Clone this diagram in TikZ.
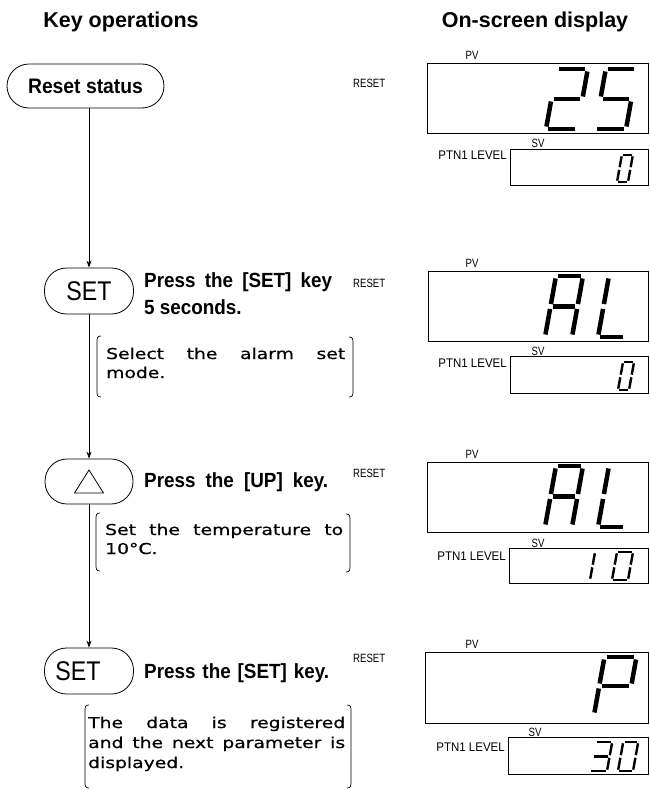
\documentclass[tikz,border=0pt]{standalone}
\usepackage{fontspec}
\setmainfont{Liberation Sans}
\newfontfamily\keyfont[FakeStretch=0.92]{Liberation Sans}
\newfontfamily\setfont[FakeStretch=0.86]{Liberation Sans}
\newfontfamily\notefont[FakeStretch=1.25,FakeBold=0.6]{DejaVu Sans}
\newfontfamily\smallfont[FakeStretch=0.8]{Liberation Sans}
\newfontfamily\ptnfont[FakeStretch=0.92]{Liberation Sans}
\usetikzlibrary{arrows.meta}
% seven-segment segments
\newcommand\dsega{\draw (\dG,-\dH) -- (\dW-\dG,-\dH);}
\newcommand\dsegb{\draw (\dW,-\dH+\dG) -- (\dW,-\dM-\dG);}
\newcommand\dsegc{\draw (\dW,-\dM+\dG) -- (\dW,-\dG);}
\newcommand\dsegd{\draw (\dG,0) -- (\dW-\dG,0);}
\newcommand\dsege{\draw (0,-\dM+\dG) -- (0,-\dG);}
\newcommand\dsegf{\draw (0,-\dH+\dG) -- (0,-\dM-\dG);}
\newcommand\dsegg{\draw (\dG,-\dM) -- (\dW-\dG,-\dM);}
\newcommand\sevdig[6]{%
  \begin{scope}[shift={(#1,#2)},xslant=0.18,line width=#5pt,line cap=butt]
    \def\dW{#3}\def\dH{#4}\pgfmathsetmacro\dM{#4/2}\pgfmathsetmacro\dG{#5*0.55}
    \foreach \s in {#6}{\csname dseg\s\endcsname}
  \end{scope}}
\newcommand\lbrk[3]{\draw[brk] (#1+4,#2) .. controls (#1,#2) and (#1,#2+2) .. (#1,#2+7) -- (#1,#3-7) .. controls (#1,#3-2) and (#1,#3) .. (#1+4,#3);}
\newcommand\rbrk[3]{\draw[brk] (#1-4,#2) .. controls (#1,#2) and (#1,#2+2) .. (#1,#2+7) -- (#1,#3-7) .. controls (#1,#3-2) and (#1,#3) .. (#1-4,#3);}
\tikzset{
  pill/.style={draw, line width=0.8pt, rounded corners=22pt, inner sep=0pt, minimum height=46pt, minimum width=89pt},
  arr/.style={line width=0.8pt, -{Stealth[length=7pt,width=5pt]}},
  brk/.style={line width=0.7pt},
  disp/.style={line width=0.7pt},
  txt/.style={inner sep=0pt, anchor=base west},
  keytxt/.style={txt, font=\keyfont\bfseries\fontsize{20.5}{20.5}\selectfont},
  note/.style={txt, font=\notefont\fontsize{15}{15}\selectfont},
  lbl/.style={inner sep=0pt, font=\smallfont\fontsize{12}{12}\selectfont},
  ptn/.style={inner sep=0pt, anchor=base east, font=\ptnfont\fontsize{12.5}{12.5}\selectfont},
  hdr/.style={inner sep=0pt, anchor=base, font=\bfseries\fontsize{21.5}{21.5}\selectfont},
}
\begin{document}
\begin{tikzpicture}[x=1pt,y=-1pt]
\fill[white] (0,0) rectangle (650,790);
\useasboundingbox (0,0) rectangle (650,790);

% headers
\node[hdr] (h1) at (121,27) {Key operations};
\node[hdr] (h2) at (535,27) {On-screen display};

% key column
\node[pill, minimum width=157pt, minimum height=44pt] (reset) at (85.5,86) {\keyfont\bfseries\fontsize{21}{21}\selectfont Reset status};
\node[pill] (set1) at (89,291) {\setfont\fontsize{27}{27}\selectfont SET};
\node[pill, minimum height=45pt, minimum width=88pt] (tri) at (89,481.5) {};
\draw[line width=0.8pt] (tri.center) ++(-14.5,11.5) -- ++(29,0) -- ++(-14.5,-23) -- cycle;
\node[pill] (set2) at (89,671) {};
\node[inner sep=0pt] (set2t) at (78,671) {\setfont\fontsize{27}{27}\selectfont SET};

\draw[arr] (reset.south -| set1.north) -- (set1.north);
\draw[arr] (set1.south) -- (tri.north);
\draw[arr] (tri.south) -- (set2.north);

% step texts
\node[keytxt] (p1) at (144,287) {\makebox[188pt][s]{Press the [SET] key}};
\node[keytxt] (p1b) at (144,314) {5 seconds.};
\node[keytxt] (p2) at (144,487) {\makebox[184pt][s]{Press the [UP] key.}};
\node[keytxt] (p3) at (144,678) {\makebox[185pt][s]{Press the [SET] key.}};

% bracket notes
\lbrk{97}{336}{397}\rbrk{353}{337}{397}
\node[note] (n1a) at (106,359) {\makebox[239pt][s]{Select the alarm set}};
\node[note] (n1b) at (106,378) {mode.};
\lbrk{96}{513}{571}\rbrk{350}{514}{572}
\node[note] (n2a) at (105,535) {\makebox[238pt][s]{Set the temperature to}};
\node[note] (n2b) at (105,554) {10°C.};
\lbrk{85}{705}{788}\rbrk{351}{705}{788}
\node[note] (n3a) at (88,728) {\makebox[257pt][s]{The data is registered}};
\node[note] (n3b) at (88,748) {\makebox[257pt][s]{and the next parameter is}};
\node[note] (n3c) at (88,768) {displayed.};

% RESET labels
\node[lbl, anchor=base west] (r1) at (353,87) {RESET};
\node[lbl, anchor=base west] (r2) at (353,287) {RESET};
\node[lbl, anchor=base west] (r3) at (353,477) {RESET};
\node[lbl, anchor=base west] (r4) at (353,662) {RESET};

% display 1
\draw[disp] (427,63) rectangle (648,133);
\draw[disp] (510,149) rectangle (648,185);
\node[lbl, anchor=base] (pv1) at (472,59) {PV};
\node[lbl, anchor=base] (sv1) at (538,147) {SV};
\node[ptn] (pt1) at (507,159) {PTN1 LEVEL};
\sevdig{546}{129}{31}{60}{4.5}{a,b,g,e,d}
\sevdig{595}{129}{31}{60}{4.5}{a,f,g,c,d}
\sevdig{617}{182}{11}{27}{2.4}{a,b,c,d,e,f}

% display 2
\draw[disp] (428,271) rectangle (648,341);
\draw[disp] (510,356) rectangle (648,393);
\node[lbl, anchor=base] (pv2) at (472,267) {PV};
\node[lbl, anchor=base] (sv2) at (538,355) {SV};
\node[ptn] (pt2) at (507,367) {PTN1 LEVEL};
\sevdig{545}{337}{27}{61}{4.5}{a,b,c,e,f,g}
\sevdig{598}{337}{27}{61}{4.5}{d,e,f}
\sevdig{618}{390}{11}{28}{2.4}{a,b,c,d,e,f}

% display 3
\draw[disp] (427,462) rectangle (648,532);
\draw[disp] (509,548) rectangle (648,583);
\node[lbl, anchor=base] (pv3) at (472,458) {PV};
\node[lbl, anchor=base] (sv3) at (538,547) {SV};
\node[ptn] (pt3) at (506,560) {PTN1 LEVEL};
\sevdig{545}{527}{27}{61}{4.5}{a,b,c,e,f,g}
\sevdig{598}{527}{27}{61}{4.5}{d,e,f}
\sevdig{574}{580}{16}{28}{2.4}{b,c}
\sevdig{612}{580}{16}{28}{2.4}{a,b,c,d,e,f}

% display 4
\draw[disp] (425,652) rectangle (648,723);
\draw[disp] (508,737) rectangle (648,774);
\node[lbl, anchor=base] (pv4) at (472,648) {PV};
\node[lbl, anchor=base] (sv4) at (535,736) {SV};
\node[ptn] (pt4) at (505,751) {PTN1 LEVEL};
\sevdig{594}{715}{32}{58}{4.5}{a,b,e,f,g}
\sevdig{590}{771}{17}{29}{2.4}{a,b,g,c,d}
\sevdig{618}{771}{15}{29}{2.4}{a,b,c,d,e,f}
\end{tikzpicture}
\end{document}
